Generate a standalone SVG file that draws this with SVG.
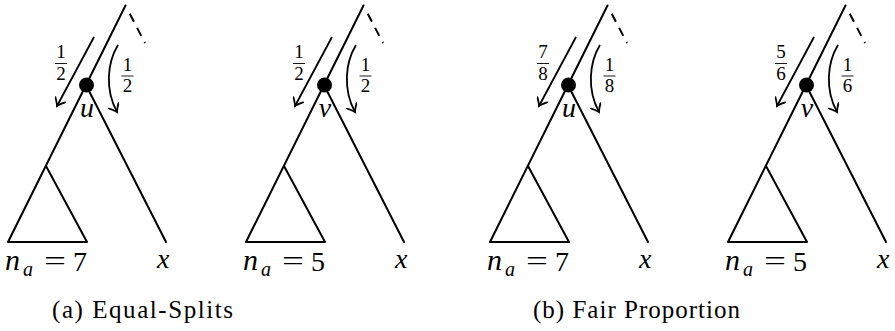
<svg xmlns="http://www.w3.org/2000/svg" width="895" height="331" viewBox="0 0 895 331">
<defs>
<style>
.e{stroke:#000;stroke-width:2;fill:none;stroke-linecap:round;stroke-linejoin:round}
.d{stroke:#000;stroke-width:2;fill:none;stroke-dasharray:9 7}
.a{stroke:#000;stroke-width:1.8;fill:none;marker-end:url(#ah)}
.m{font-family:'Liberation Serif',serif;font-style:italic;font-size:28px;fill:#000}
.n{font-family:'Liberation Serif',serif;font-style:italic;font-size:30px;fill:#000}
.sub{font-family:'Liberation Serif',serif;font-style:italic;font-size:20px;fill:#000}
.r{font-family:'Liberation Serif',serif;font-size:28px;fill:#000}
.f{font-family:'Liberation Serif',serif;font-size:19px;fill:#000;text-anchor:middle}
.fb{stroke:#000;stroke-width:0.9}
.c{font-family:'Liberation Serif',serif;font-size:25px;fill:#000}
</style>
<marker id="ah" viewBox="-8 -6 10 12" markerWidth="10" markerHeight="12" refX="0" refY="0" orient="auto" markerUnits="userSpaceOnUse">
<path d="M-7,-5.5 Q-2,-1 0,0 Q-2,1 -7,5.5" stroke="#000" stroke-width="1.8" fill="none" stroke-linecap="round"/>
</marker>
</defs>

<g id="connectors">
<g transform="translate(0,0)">
<path class="e" d="M125.5,5.5 L8,242 L87,242 L46,166"/>
<path class="e" d="M86,85 L166,242"/>
<path class="d" d="M126.5,7.5 L145,43" stroke-dashoffset="-7"/>
<path class="a" d="M94,37 L57,106"/>
<path class="a" d="M118,45 C107,63 105,90 117,112"/>
</g>
<g transform="translate(238,0)">
<path class="e" d="M125.5,5.5 L8,242 L87,242 L46,166"/>
<path class="e" d="M86,85 L166,242"/>
<path class="d" d="M126.5,7.5 L145,43" stroke-dashoffset="-7"/>
<path class="a" d="M94,37 L57,106"/>
<path class="a" d="M118,45 C107,63 105,90 117,112"/>
</g>
<g transform="translate(482,0)">
<path class="e" d="M125.5,5.5 L8,242 L87,242 L46,166"/>
<path class="e" d="M86,85 L166,242"/>
<path class="d" d="M126.5,7.5 L145,43" stroke-dashoffset="-7"/>
<path class="a" d="M94,37 L57,106"/>
<path class="a" d="M118,45 C107,63 105,90 117,112"/>
</g>
<g transform="translate(720,0)">
<path class="e" d="M125.5,5.5 L8,242 L87,242 L46,166"/>
<path class="e" d="M86,85 L166,242"/>
<path class="d" d="M126.5,7.5 L145,43" stroke-dashoffset="-7"/>
<path class="a" d="M94,37 L57,106"/>
<path class="a" d="M118,45 C107,63 105,90 117,112"/>
</g>
</g>

<g id="panel-a1" transform="translate(0,0)">
<g id="node-u-a"><circle cx="86.5" cy="85" r="7.5" fill="#000"/><text class="m" x="87" y="117" text-anchor="middle">u</text></g>
<g id="frac-a1-left"><text class="f" x="61" y="58">1</text><line class="fb" x1="55" y1="63.5" x2="67" y2="63.5"/><text class="f" x="61" y="80">2</text></g>
<g id="frac-a1-right"><text class="f" x="127.5" y="71">1</text><line class="fb" x1="121.5" y1="76" x2="133.5" y2="76"/><text class="f" x="127.5" y="92">2</text></g>
<g id="subtree-a1"><text class="n" x="5" y="270">n</text><text class="sub" x="23" y="276">a</text><text class="r" x="44" y="270" textLength="22" lengthAdjust="spacingAndGlyphs">=</text><text class="r" x="73" y="271">7</text></g>
<g id="leaf-x-a1"><text class="m" x="157" y="268">x</text></g>
</g>

<g id="panel-a2" transform="translate(238,0)">
<g id="node-v-a"><circle cx="86.5" cy="85" r="7.5" fill="#000"/><text class="m" x="87" y="117" text-anchor="middle">v</text></g>
<g id="frac-a2-left"><text class="f" x="61" y="58">1</text><line class="fb" x1="55" y1="63.5" x2="67" y2="63.5"/><text class="f" x="61" y="80">2</text></g>
<g id="frac-a2-right"><text class="f" x="127.5" y="71">1</text><line class="fb" x1="121.5" y1="76" x2="133.5" y2="76"/><text class="f" x="127.5" y="92">2</text></g>
<g id="subtree-a2"><text class="n" x="5" y="270">n</text><text class="sub" x="23" y="276">a</text><text class="r" x="44" y="270" textLength="22" lengthAdjust="spacingAndGlyphs">=</text><text class="r" x="73" y="271">5</text></g>
<g id="leaf-x-a2"><text class="m" x="157" y="268">x</text></g>
</g>

<g id="panel-b1" transform="translate(482,0)">
<g id="node-u-b"><circle cx="86.5" cy="85" r="7.5" fill="#000"/><text class="m" x="87" y="117" text-anchor="middle">u</text></g>
<g id="frac-b1-left"><text class="f" x="61" y="58">7</text><line class="fb" x1="55" y1="63.5" x2="67" y2="63.5"/><text class="f" x="61" y="80">8</text></g>
<g id="frac-b1-right"><text class="f" x="127.5" y="71">1</text><line class="fb" x1="121.5" y1="76" x2="133.5" y2="76"/><text class="f" x="127.5" y="92">8</text></g>
<g id="subtree-b1"><text class="n" x="5" y="270">n</text><text class="sub" x="23" y="276">a</text><text class="r" x="44" y="270" textLength="22" lengthAdjust="spacingAndGlyphs">=</text><text class="r" x="73" y="271">7</text></g>
<g id="leaf-x-b1"><text class="m" x="157" y="268">x</text></g>
</g>

<g id="panel-b2" transform="translate(720,0)">
<g id="node-v-b"><circle cx="86.5" cy="85" r="7.5" fill="#000"/><text class="m" x="87" y="117" text-anchor="middle">v</text></g>
<g id="frac-b2-left"><text class="f" x="61" y="58">5</text><line class="fb" x1="55" y1="63.5" x2="67" y2="63.5"/><text class="f" x="61" y="80">6</text></g>
<g id="frac-b2-right"><text class="f" x="127.5" y="71">1</text><line class="fb" x1="121.5" y1="76" x2="133.5" y2="76"/><text class="f" x="127.5" y="92">6</text></g>
<g id="subtree-b2"><text class="n" x="5" y="270">n</text><text class="sub" x="23" y="276">a</text><text class="r" x="44" y="270" textLength="22" lengthAdjust="spacingAndGlyphs">=</text><text class="r" x="73" y="271">5</text></g>
<g id="leaf-x-b2"><text class="m" x="157" y="268">x</text></g>
</g>

<g id="captions">
<text class="c" x="52" y="318" textLength="181">(a) Equal-Splits</text>
<text class="c" x="533" y="318" textLength="207">(b) Fair Proportion</text>
</g>
</svg>
